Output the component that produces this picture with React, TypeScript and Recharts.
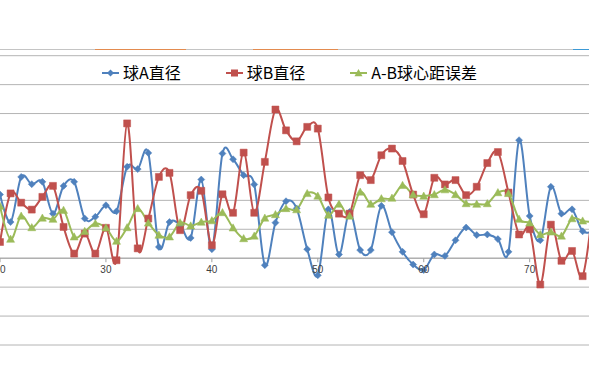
import { LineChart, Line, XAxis, YAxis, CartesianGrid, ReferenceLine } from 'recharts';

// x positions (sample number)
const idx = [20, 21, 22, 23, 24, 25, 26, 27, 28, 29, 30, 31, 32, 33, 34, 35, 36, 37, 38, 39,
    40, 41, 42, 43, 44, 45, 46, 47, 48, 49, 50, 51, 52, 53, 54, 55, 56, 57, 58, 59,
    60, 61, 62, 63, 64, 65, 66, 67, 68, 69, 70, 71, 72, 73, 74, 75, 76];

const ballA = [22, 12.5, 28.1, 25.6, 26.4, 15.4, 25.0, 26.4, 13.7, 14.3, 18.3, 16.2, 31.6, 30.8, 36.4, 3.9, 12.5, 11.6, 7.0, 27.2,
    3.1, 36.2, 34.2, 28.7, 25.5, -2.4, 12.3, 19.7, 17.2, 3.1, -5.9, 16.9, 1.3, 16.0, 2.8, 2.8, 18.1, 9.0, 2.2, -2.2,
    -4.1, 1.3, 0.8, 6.2, 10.6, 8.0, 8.2, 6.6, 2.2, 40.8, 14.6, 6.2, 24.7, 15.4, 16.9, 9.3, 9.5];

const ballB = [5.6, 22.4, 19.2, 16.8, 21.2, 25.0, 10.8, 1.6, 8.5, 1.6, 10.5, -0.7, 46.6, 3.4, 13.7, 28.1, 29.5, 9.7, 21.8, 23.3,
    4.5, 22.1, 15.7, 36.5, 15.7, 33.3, 51.4, 44.2, 40.4, 45.4, 44.8, 21.0, 15.4, 15.4, 28.7, 27.0, 35.6, 37.9, 33.6, 22.0,
    15.2, 27.8, 25.5, 27.0, 21.8, 24.7, 32.9, 36.7, 22.7, 8.2, 10.0, -9.1, 11.6, -0.9, 2.5, -6.2, 19.0];

const centerErr = [18.0, 6.6, 14.6, 10.6, 13.9, 13.5, 16.6, 7.4, 9.3, 12.0, 10.5, 5.9, 10.6, 17.2, 12.2, 8.0, 7.4, 12.3, 11.2, 12.5,
    13.0, 15.8, 10.5, 6.8, 7.7, 13.9, 15.1, 17.2, 16.8, 22.4, 21.5, 14.9, 18.7, 14.6, 22.9, 18.7, 20.6, 20.8, 25.2, 22.0,
    21.5, 22.0, 23.7, 22.0, 18.9, 18.7, 18.9, 22.7, 22.4, 13.5, 12.2, 8.2, 9.1, 7.7, 13.7, 12.9, 12.5];

const xTicks = [20, 30, 40, 50, 60, 70];
const yTicks = [-30, -20, -10, 0, 10, 20, 30, 40, 50, 60, 70];

const seriesNames = ['球A直径', '球B直径', 'A-B球心距误差'];
const BLUE = '#4F81BD';
const RED = '#C0504D';
const GREEN = '#9BBB59';

const data = idx.map((n, i) => ({ n, a: ballA[i], b: ballB[i], ab: centerErr[i] }));

const W = 589;
const H = 386;
const TOP = 55.7;
const BOTTOM = 41;
const X_AXIS_H = 30;
const Y_MIN = -30;
const Y_MAX = 70;
const PLOT_H = H - TOP - BOTTOM;
const yPix = (v: number) => TOP + ((Y_MAX - v) / (Y_MAX - Y_MIN)) * PLOT_H;
const ZERO_Y = yPix(0);

// Excel style smoothed line (Catmull-Rom through the points)
function excelCurve(context: any) {
    const k = 1 / 6;
    let x0 = NaN, x1 = NaN, x2 = NaN, y0 = NaN, y1 = NaN, y2 = NaN;
    let pt = 0;
    let line = NaN;
    const seg = (x: number, y: number) =>
        context.bezierCurveTo(
            x1 + k * (x2 - x0), y1 + k * (y2 - y0),
            x2 + k * (x1 - x), y2 + k * (y1 - y),
            x2, y2);
    return {
        areaStart() { line = 0; },
        areaEnd() { line = NaN; },
        lineStart() { x0 = x1 = x2 = y0 = y1 = y2 = NaN; pt = 0; },
        lineEnd() {
            if (pt === 2) context.lineTo(x2, y2);
            else if (pt === 3) seg(x1, y1);
            if (line || (line !== 0 && pt === 1)) context.closePath();
            line = 1 - line;
        },
        point(xv: number, yv: number) {
            const x = +xv, y = +yv;
            switch (pt) {
                case 0: pt = 1; if (line) context.lineTo(x, y); else context.moveTo(x, y); break;
                case 1: pt = 2; x1 = x; y1 = y; break;
                case 2: pt = 3; seg(x, y); break;
                default: seg(x, y); break;
            }
            x0 = x1; x1 = x2; x2 = x;
            y0 = y1; y1 = y2; y2 = y;
        },
    };
}

const diamond = (cx: number, cy: number, r: number) => `M${cx},${cy - r}L${cx + r},${cy}L${cx},${cy + r}L${cx - r},${cy}Z`;
const square = (cx: number, cy: number, r: number) => `M${cx - r},${cy - r}H${cx + r}V${cy + r}H${cx - r}Z`;
const triangle = (cx: number, cy: number, r: number) => `M${cx},${cy - r}L${cx + r},${cy + r * 0.8}L${cx - r},${cy + r * 0.8}Z`;

const makeDot = (shape: (x: number, y: number, r: number) => string, r: number, color: string) => (props: any) => {
    const { cx, cy, index } = props;
    if (cx == null || cy == null) return <g key={index} />;
    return <path key={index} d={shape(cx, cy, r)} fill={color} stroke={color} strokeWidth={0.5} />;
};

// x axis sits on the zero line, not at the bottom of the plot
function XTick(props: any) {
    const { x, payload } = props;
    return (
        <g>
            <line x1={x} x2={x} y1={ZERO_Y} y2={ZERO_Y + 4} stroke="#a0a0a0" />
            <text x={x} y={ZERO_Y + 15} textAnchor="middle" fontSize={10} fill="#404040"
                fontFamily="'Liberation Sans', Arial, sans-serif">
                {payload.value}
            </text>
        </g>
    );
}

function LegendIcon({ color, shape, r }: { color: string; shape: (x: number, y: number, r: number) => string; r: number }) {
    return (
        <svg width={17} height={12} style={{ display: 'block' }}>
            <line x1={0} x2={17} y1={6} y2={6} stroke={color} strokeWidth={2} />
            <path d={shape(8.5, 6, r)} fill={color} />
        </svg>
    );
}

export default function App() {
    const legendItems = [
        { name: seriesNames[0], color: BLUE, shape: diamond, r: 3.5 },
        { name: seriesNames[1], color: RED, shape: square, r: 3.5 },
        { name: seriesNames[2], color: GREEN, shape: triangle, r: 4 },
    ];

    return (
        <div style={{ position: 'absolute', left: 0, top: 0, width: W, height: H, background: '#fff', overflow: 'hidden' }}>
            {/* remains of the chart above */}
            <div style={{ position: 'absolute', left: 0, top: 49, width: W, height: 1, background: '#c4c4c4' }} />
            <div style={{ position: 'absolute', left: 95, top: 48.5, width: 91, height: 1.5, background: '#E38B4F' }} />
            <div style={{ position: 'absolute', left: 253, top: 48.5, width: 85, height: 1.5, background: '#E38B4F' }} />
            <div style={{ position: 'absolute', left: 573, top: 48.5, width: 16, height: 1.5, background: '#3C9AD6' }} />

            <LineChart width={W} height={H} data={data}
                margin={{ top: TOP, right: 0, bottom: BOTTOM - X_AXIS_H, left: 0 }}>
                <CartesianGrid vertical={false} stroke="#b4b4b4" strokeWidth={1}
                    horizontalPoints={yTicks.map(yPix)} />
                <XAxis dataKey="n" type="number" domain={[20, 75.6]} allowDataOverflow ticks={xTicks} interval={0}
                    height={X_AXIS_H} axisLine={false} tickLine={false} tick={XTick} />
                <YAxis domain={[Y_MIN, Y_MAX]} ticks={yTicks} width={0} tick={false} axisLine={false} tickLine={false} />
                <ReferenceLine y={0} stroke="#a6a6a6" strokeWidth={1} />
                <Line dataKey="a" name={seriesNames[0]} type={excelCurve as any} stroke={BLUE} strokeWidth={2}
                    dot={makeDot(diamond, 3.5, BLUE)} activeDot={false} isAnimationActive={false} />
                <Line dataKey="b" name={seriesNames[1]} type={excelCurve as any} stroke={RED} strokeWidth={2}
                    dot={makeDot(square, 3.5, RED)} activeDot={false} isAnimationActive={false} />
                <Line dataKey="ab" name={seriesNames[2]} type={excelCurve as any} stroke={GREEN} strokeWidth={2}
                    dot={makeDot(triangle, 4, GREEN)} activeDot={false} isAnimationActive={false} />
            </LineChart>

            <div style={{
                position: 'absolute', left: 102, top: 62, height: 21, display: 'flex', alignItems: 'center', gap: 45,
                fontFamily: "'Noto Sans CJK SC', sans-serif", fontSize: 16, color: '#000', whiteSpace: 'nowrap',
            }}>
                {legendItems.map((it) => (
                    <div key={it.name} style={{ display: 'flex', alignItems: 'center', gap: 4 }}>
                        <LegendIcon color={it.color} shape={it.shape} r={it.r} />
                        <span style={{ lineHeight: '21px' }}>{it.name}</span>
                    </div>
                ))}
            </div>
        </div>
    );
}
